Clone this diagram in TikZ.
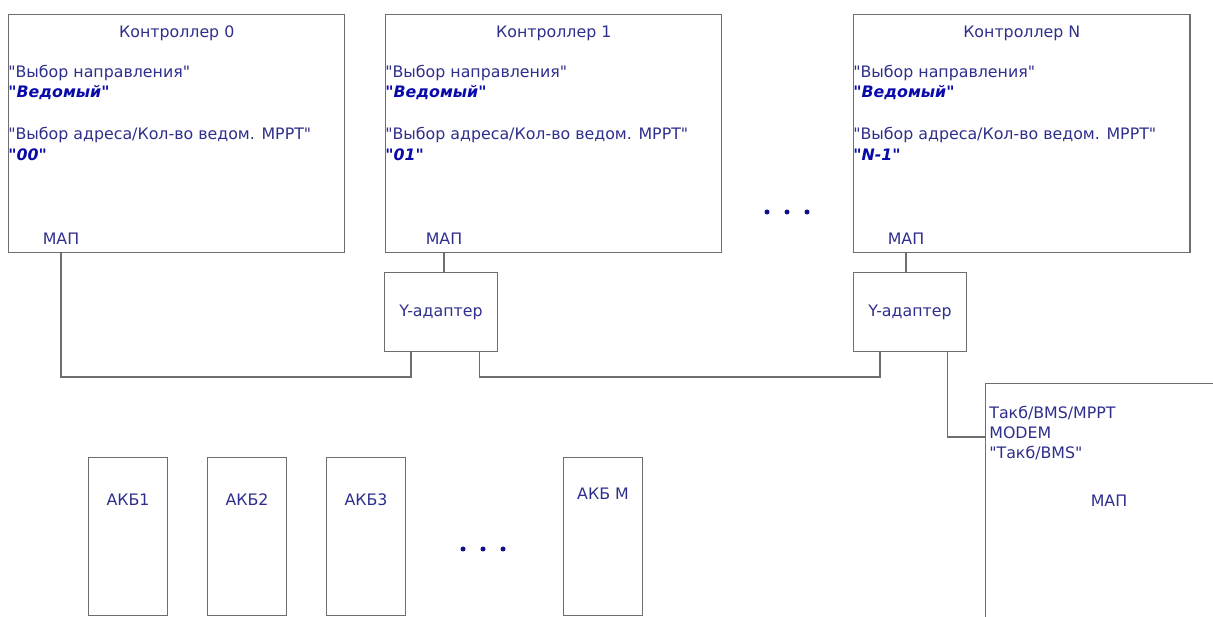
\documentclass[tikz,border=0pt]{standalone}
\usepackage{fontspec}
\setmainfont{DejaVu Sans}[Ligatures=TeXOff]
\usetikzlibrary{calc,positioning}

\definecolor{txtblue}{HTML}{2E2E8C}
\definecolor{valblue}{HTML}{0A0AAA}
\definecolor{dotblue}{HTML}{10108A}
\definecolor{linegray}{HTML}{6E6E6E}

\newcommand\fsz{\fontsize{9}{11}\selectfont}

\begin{document}
\begin{tikzpicture}[x=0.02cm,y=-0.02cm]

    \tikzset{
      ctrlbox/.style={
        draw=linegray,
        line width=0.6pt,
        anchor=north west,
        inner sep=0pt,
        minimum width=6.73cm,
        minimum height=4.76cm,
      },
      adbox/.style={
        draw=linegray,
        line width=0.6pt,
        anchor=north west,
        inner sep=0pt,
        minimum width=2.26cm,
        minimum height=1.58cm,
        font=\fsz,
        text=txtblue,
      },
      akbbox/.style={
        draw=linegray,
        line width=0.6pt,
        anchor=north west,
        inner sep=0pt,
        minimum width=1.58cm,
        minimum height=3.16cm,
      },
      lbl/.style={font=\fsz, text=txtblue, inner sep=0pt},
      val/.style={font=\fsz\bfseries\itshape, text=valblue, inner sep=0pt, anchor=base west},
      wire/.style={draw=linegray, line width=0.6pt},
      dot/.style={circle, fill=dotblue, inner sep=0pt, minimum size=0.1cm},
    }

	\useasboundingbox (0,0) rectangle (1213,617);
	\clip (0,0) rectangle (1213,617);

	\node[ctrlbox] (ctrl0) at (8,14) {};
	\node[ctrlbox] (ctrl1) at (385,14) {};
	\node[ctrlbox] (ctrlN) at (853,14) {};

	\node[lbl, anchor=base] (ttl0) at ($(ctrl0.north)+(0,24)$) {Контроллер 0};
	\node[lbl, anchor=base west] (dir0) at ($(ctrl0.north west)+(0,64)$) {"Выбор направления"};
	\node[val] (dirv0) at ($(ctrl0.north west)+(0,84)$) {"Ведомый"};
	\node[lbl, anchor=base west] (adr0) at ($(ctrl0.north west)+(0,126)$) {"Выбор адреса/Кол-во ведом. MPPT"};
	\node[val] (adrv0) at ($(ctrl0.north west)+(0,147)$) {"00"};
	\node[lbl, anchor=base] (map0) at ($(ctrl0.south west)+(53,-9)$) {МАП};

	\node[lbl, anchor=base] (ttl1) at ($(ctrl1.north)+(0,24)$) {Контроллер 1};
	\node[lbl, anchor=base west] (dir1) at ($(ctrl1.north west)+(0,64)$) {"Выбор направления"};
	\node[val] (dirv1) at ($(ctrl1.north west)+(0,84)$) {"Ведомый"};
	\node[lbl, anchor=base west] (adr1) at ($(ctrl1.north west)+(0,126)$) {"Выбор адреса/Кол-во ведом. MPPT"};
	\node[val] (adrv1) at ($(ctrl1.north west)+(0,147)$) {"01"};
	\node[lbl, anchor=base] (map1) at ($(ctrl1.south west)+(59,-9)$) {МАП};

	\node[lbl, anchor=base] (ttlN) at ($(ctrlN.north)+(0,24)$) {Контроллер N};
	\node[lbl, anchor=base west] (dirN) at ($(ctrlN.north west)+(0,64)$) {"Выбор направления"};
	\node[val] (dirvN) at ($(ctrlN.north west)+(0,84)$) {"Ведомый"};
	\node[lbl, anchor=base west] (adrN) at ($(ctrlN.north west)+(0,126)$) {"Выбор адреса/Кол-во ведом. MPPT"};
	\node[val] (adrvN) at ($(ctrlN.north west)+(0,147)$) {"N-1"};
	\node[lbl, anchor=base] (mapN) at ($(ctrlN.south west)+(53,-9)$) {МАП};

	\node[dot] (dtop1) at (767,212) {};
	\node[dot] (dtop2) at (787,212) {};
	\node[dot] (dtop3) at (807,212) {};

	\node[adbox] (ya1) at (384,272) {Y-адаптер};
	\node[adbox] (yaN) at (853,272) {Y-адаптер};

	\node[draw=linegray, line width=0.6pt, anchor=north west, minimum width=6cm, minimum height=6cm] (mapbox) at (985,383) {};
	\node[lbl, anchor=base west] (mb1) at ($(mapbox.north west)+(4,36)$) {Такб/BMS/MPPT};
	\node[lbl, anchor=base west] (mb2) at ($(mapbox.north west)+(4,56)$) {MODEM};
	\node[lbl, anchor=base west] (mb3) at ($(mapbox.north west)+(4,76)$) {"Такб/BMS"};
	\node[lbl, anchor=base] (mbmap) at ($(mapbox.north west)+(124,124)$) {МАП};

	\node[akbbox] (akb1) at (88,457) {};
	\node[akbbox] (akb2) at (207,457) {};
	\node[akbbox] (akb3) at (326,457) {};
	\node[akbbox] (akbM) at (563,457) {};
	\node[lbl, anchor=base] (akb1t) at ($(akb1.north)+(0,49)$) {АКБ1};
	\node[lbl, anchor=base] (akb2t) at ($(akb2.north)+(0,49)$) {АКБ2};
	\node[lbl, anchor=base] (akb3t) at ($(akb3.north)+(0,49)$) {АКБ3};
	\node[lbl, anchor=base] (akbMt) at ($(akbM.north)+(0,43)$) {АКБ M};

	\node[dot] (dbot1) at (463,549) {};
	\node[dot] (dbot2) at (483,549) {};
	\node[dot] (dbot3) at (503,549) {};

	\coordinate (bus) at (0,377);
	\coordinate (ya1l) at ($(ya1.south west)+(27,0)$);
	\coordinate (ya1r) at ($(ya1.south east)+(-19,0)$);
	\coordinate (yaNl) at ($(yaN.south west)+(27,0)$);
	\coordinate (yaNr) at ($(yaN.south east)+(-20,0)$);
	\coordinate (mapin) at ($(mapbox.north west)+(0,54)$);

	\draw[wire] (map0 |- ctrl0.south) -- (map0 |- bus) -| (ya1l);
	\draw[wire] (map1 |- ctrl1.south) -- (map1 |- ya1.north);
	\draw[wire] (ya1r) -- (ya1r |- bus) -| (yaNl);
	\draw[wire] (mapN |- ctrlN.south) -- (mapN |- yaN.north);
	\draw[wire] (yaNr) |- (mapin);

\end{tikzpicture}
\end{document}
